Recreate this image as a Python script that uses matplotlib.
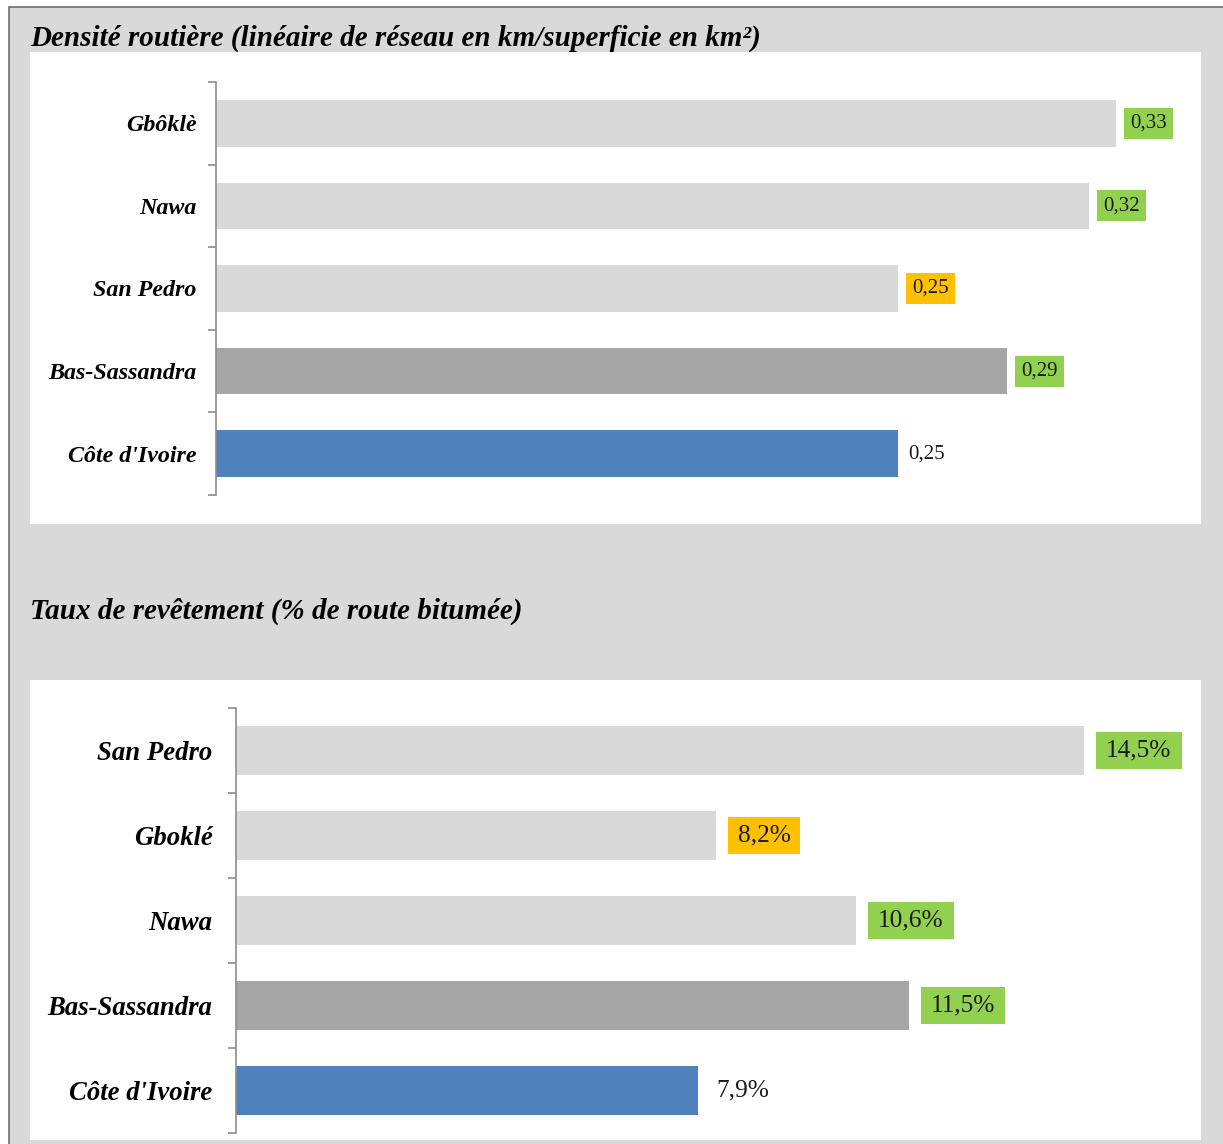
import matplotlib
matplotlib.use("Agg")
import matplotlib.pyplot as plt
from matplotlib.patches import Rectangle

# ---- data ----
dens_categories = ["Gbôklè", "Nawa", "San Pedro", "Bas-Sassandra", "Côte d'Ivoire"]
dens_values = [0.33, 0.32, 0.25, 0.29, 0.25]
dens_labels = ["0,33", "0,32", "0,25", "0,29", "0,25"]
dens_title = "Densité routière (linéaire de réseau en km/superficie en km²)"

rev_categories = ["San Pedro", "Gboklé", "Nawa", "Bas-Sassandra", "Côte d'Ivoire"]
rev_values = [14.5, 8.2, 10.6, 11.5, 7.9]
rev_labels = ["14,5%", "8,2%", "10,6%", "11,5%", "7,9%"]
rev_title = "Taux de revêtement (% de route bitumée)"

# ---- styles ----
bar_colors = ["#d9d9d9", "#d9d9d9", "#d9d9d9", "#a6a6a6", "#4f81bd"]
GREEN = "#92d050"
ORANGE = "#ffc000"
dens_box = [GREEN, GREEN, ORANGE, GREEN, None]
rev_box = [GREEN, ORANGE, GREEN, GREEN, None]

W, H = 1223, 1144
PT = 0.72  # points per pixel at dpi 100
fig = plt.figure(figsize=(W / 100, H / 100), dpi=100)
fig.patch.set_facecolor("white")

def fx(x):
    return x / W

def fy(y):
    return 1 - y / H

# outer gray frame
fig.add_artist(Rectangle((fx(9), fy(H + 5)), fx(W + 10 - 9), (H + 5 - 7) / H,
                         transform=fig.transFigure, facecolor="#d9d9d9",
                         edgecolor="#6e6e6e", linewidth=1.2, zorder=0))
# white panels
fig.add_artist(Rectangle((fx(30), fy(524)), fx(1201 - 30), (524 - 52) / H,
                         transform=fig.transFigure, facecolor="white",
                         edgecolor="none", zorder=0.5))
fig.add_artist(Rectangle((fx(30), fy(1140)), fx(1201 - 30), (1140 - 680) / H,
                         transform=fig.transFigure, facecolor="white",
                         edgecolor="none", zorder=0.5))

title_font = dict(family=["Liberation Serif"], weight="bold", style="italic")
fig.text(fx(30), fy(38), dens_title, fontsize=21, va="center", ha="left", **title_font)
fig.text(fx(30), fy(611), rev_title, fontsize=21, va="center", ha="left", **title_font)


def draw(ax, cats, vals, labels, boxes, xmax, cat_size, val_size, pad,
         hpad_px, vpad_px, off_box_px, off_plain_px):
    y = list(range(len(cats)))
    ax.barh(y, vals, height=0.565, color=bar_colors, edgecolor="none", zorder=2)
    ax.set_ylim(len(cats) - 0.5, -0.5)
    ax.set_xlim(0, xmax)
    ax.set_facecolor("none")
    for s in ["top", "right", "bottom"]:
        ax.spines[s].set_visible(False)
    ax.spines["left"].set_color("#8c8c8c")
    ax.spines["left"].set_linewidth(1.2)
    ax.set_xticks([])
    ax.set_yticks(y)
    ax.set_yticklabels(cats, fontsize=cat_size, family=["Liberation Serif"],
                       weight="bold", style="italic")
    ax.set_yticks([i - 0.5 for i in range(len(cats) + 1)], minor=True)
    ax.tick_params(axis="y", which="major", length=0, pad=pad)
    ax.tick_params(axis="y", which="minor", length=6, width=1.2, color="#8c8c8c",
                   direction="out")
    for i, (v, lab, bc) in enumerate(zip(vals, labels, boxes)):
        kw = {}
        if bc is not None:
            # pad given in points (no boxstyle -> matplotlib converts points)
            kw["bbox"] = dict(facecolor=bc, edgecolor="none",
                              pad=hpad_px * PT, mutation_aspect=vpad_px / hpad_px)
            off = off_box_px
        else:
            off = off_plain_px
        ax.annotate(lab, xy=(v, i), xytext=(off * PT, 0), textcoords="offset points",
                    ha="left", va="center", fontsize=val_size,
                    family=["Liberation Serif"], color="#1a1a1a", zorder=3, **kw)


ax1 = fig.add_axes([fx(216), fy(495), fx(1196 - 216), (495 - 82) / H])
ax1.set_zorder(2)
draw(ax1, dens_categories, dens_values, dens_labels, dens_box,
     (1196 - 216) / 2728, 17.3, 15, 14, 6, 6, 14, 10)

ax2 = fig.add_axes([fx(236), fy(1133), fx(1196 - 236), (1133 - 708) / H])
ax2.set_zorder(2)
draw(ax2, rev_categories, rev_values, rev_labels, rev_box,
     (1196 - 236) / 58.5, 19.3, 18.3, 17, 10, 7.7, 22, 18)

fig.savefig("out.png", dpi=100, facecolor=fig.get_facecolor())
